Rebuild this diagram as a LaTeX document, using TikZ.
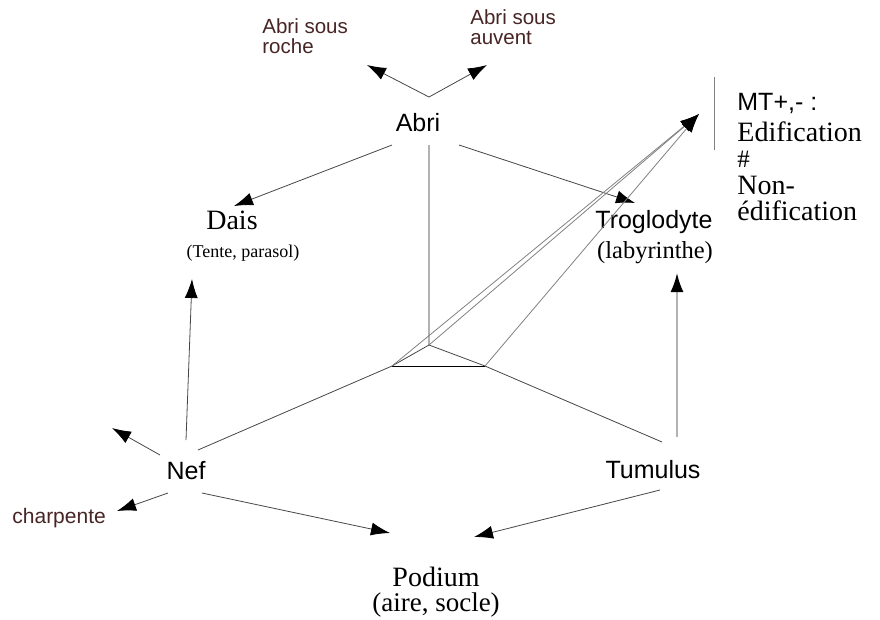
\documentclass[tikz,border=0pt]{standalone}
\usepackage{fontspec}
\setmainfont{Liberation Serif}
\setsansfont{Liberation Sans}
\usetikzlibrary{arrows.meta,positioning}
\definecolor{LineGray}{RGB}{70,70,70}
\definecolor{PaleGray}{RGB}{178,178,178}
\definecolor{NoteBrown}{RGB}{72,36,36}

\begin{document}
\begin{tikzpicture}[x=1pt, y=-1pt, >={Latex[length=19pt,width=13pt,black]}, line width=0.8pt,
    sanslbl/.style={font=\sffamily\fontsize{25}{28}\selectfont, inner sep=0pt},
    seriflbl/.style={font=\fontsize{28}{30}\selectfont, inner sep=0pt},
    note/.style={font=\sffamily\fontsize{20.5}{20}\selectfont, text=NoteBrown, align=left, inner sep=0pt, anchor=west},
    link/.style={draw=LineGray},
    arr/.style={->, draw=LineGray}]
  \useasboundingbox (0,0) rectangle (880,619);

  % labels
  \node[sanslbl] (abri) at (418,123) {Abri};
  \node[note] (roche) at (262,36) {Abri sous\\roche};
  \node[note] (auvent) at (470,27) {Abri sous\\auvent};
  \node[seriflbl] (dais) at (232,220) {Dais};
  \node[inner sep=0pt, font=\fontsize{18}{21}\selectfont] (daispar) at (243,253) {(Tente, parasol)};
  \node[sanslbl] (trog) at (654,222) {Troglodyte};
  \node[inner sep=0pt, font=\fontsize{24.5}{26}\selectfont] (trogpar) at (655,253) {(labyrinthe)};
  \node[sanslbl] (nef) at (186,471) {Nef};
  \node[note, font=\sffamily\fontsize{21}{22}\selectfont] (charp) at (12,518) {charpente};
  \node[sanslbl] (tum) at (653,470) {Tumulus};
  \node[seriflbl] (pod) at (436,577) {Podium};
  \node[inner sep=0pt, font=\fontsize{27}{28}\selectfont] (podpar) at (436,605) {(aire, socle)};
  \node[inner sep=0pt, anchor=north west, align=left, font=\fontsize{28}{26.5}\selectfont] (mt) at (737,93)
    {{\sffamily\fontsize{25}{26.5}\selectfont MT+,- :}\\[4pt]Edification\\{\fontsize{25}{26.5}\selectfont\#}\\Non-\\édification};

  % centre of the solid
  \coordinate (ctr) at (429,345);
  \coordinate (lft) at (392,366);
  \coordinate (rgt) at (485,366);
  \coordinate (apex) at (699,114);

  % end points near the labels
  \coordinate (abriTop) at (429,97);
  \coordinate (rocheTip) at (367,65);
  \coordinate (auventTip) at (487,65);
  \coordinate (abriL) at (392,145);
  \coordinate (abriB) at (429,145);
  \coordinate (abriR) at (459,145);
  \coordinate (daisTip) at (234,206);
  \coordinate (trogTip) at (635,203);
  \coordinate (nefTop) at (186,440);
  \coordinate (daisBot) at (192,279);
  \coordinate (nefUL) at (160,455);
  \coordinate (nefFree) at (112,428);
  \coordinate (nefDL) at (168,493);
  \coordinate (charpTip) at (117,511);
  \coordinate (nefUR) at (198,450);
  \coordinate (nefR) at (202,493);
  \coordinate (podL) at (390,533);
  \coordinate (podR) at (474,537);
  \coordinate (tumL) at (660,490);
  \coordinate (tumUL) at (662,442);
  \coordinate (tumTop) at (677,437);
  \coordinate (trogBot) at (677,273);
  \coordinate (barTop) at (714,77);
  \coordinate (barBot) at (714,150);

  % arrows out of Abri
  \draw[arr] (abriTop) -- (rocheTip);
  \draw[arr] (abriTop) -- (auventTip);
  \draw[arr] (abriL) -- (daisTip);
  \draw[arr] (abriR) -- (trogTip);
  \draw[draw=PaleGray, line width=1.4pt] (abriB) -- (ctr);

  % the solid
  \draw[link] (nefUR) -- (lft) -- (ctr) -- (rgt) -- (tumUL);
  \draw[black, line width=1pt] (lft) -- (rgt);
  \draw[arr, draw=gray] (lft) -- (apex);
  \draw[arr, draw=gray] (ctr) -- (apex);
  \draw[arr, draw=gray] (rgt) -- (apex);
  \draw[draw=gray, line width=1pt] (barTop) -- (barBot);

  % arrows out of Nef and Tumulus
  \draw[arr] (nefTop) -- (daisBot);
  \draw[arr] (nefUL) -- (nefFree);
  \draw[arr] (nefDL) -- (charpTip);
  \draw[arr] (nefR) -- (podL);
  \draw[arr] (tumL) -- (podR);
  \draw[->, draw=PaleGray, line width=2pt] (tumTop) -- (trogBot);
\end{tikzpicture}
\end{document}
